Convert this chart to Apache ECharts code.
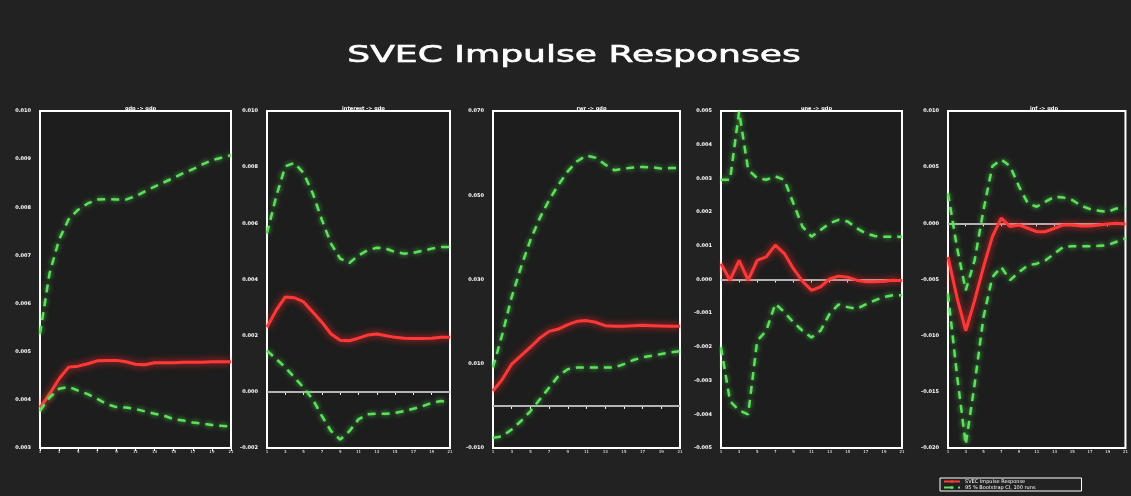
<!DOCTYPE html>
<html>
<head>
<meta charset="utf-8">
<script src="https://cdn.jsdelivr.net/npm/echarts@6/dist/echarts.min.js"></script>
<style>
html,body{margin:0;padding:0;background:#222222;}
#c{width:1131px;height:496px;}
</style>
</head>
<body>
<div id="c"></div>
<script>
// Horizon (steps 0..20)
const steps = Array.from({length: 21}, (_, i) => String(i + 1));

// Panel titles
const panelTitles = ['gdp -> gdp', 'interest -> gdp', 'rwr -> gdp', 'une -> gdp', 'inf -> gdp'];

// Values in units of 1e-3
const p1Irf   = [3.84,4.12,4.44,4.68,4.70,4.75,4.81,4.82,4.82,4.79,4.74,4.73,4.77,4.77,4.77,4.78,4.78,4.78,4.79,4.79,4.79];
const p1Upper = [5.37,6.63,7.33,7.75,7.95,8.08,8.16,8.17,8.16,8.16,8.23,8.33,8.43,8.52,8.61,8.71,8.79,8.89,8.98,9.03,9.08];
const p1Lower = [3.77,4.05,4.23,4.27,4.19,4.12,4.02,3.91,3.85,3.84,3.81,3.76,3.71,3.67,3.60,3.57,3.53,3.51,3.48,3.46,3.45];

const p2Irf   = [2.30,2.90,3.38,3.35,3.20,2.84,2.48,2.06,1.84,1.82,1.91,2.02,2.06,2.00,1.94,1.91,1.90,1.90,1.91,1.94,1.94];
const p2Upper = [5.64,6.95,8.03,8.15,7.79,7.07,6.12,5.28,4.74,4.59,4.86,5.04,5.13,5.10,4.98,4.92,4.95,5.02,5.10,5.16,5.16];
const p2Lower = [1.47,1.17,0.87,0.51,0.15,-0.27,-0.86,-1.40,-1.70,-1.40,-0.98,-0.80,-0.78,-0.78,-0.75,-0.69,-0.60,-0.51,-0.39,-0.33,-0.37];

const p3Irf   = [3.52,6.32,9.92,11.92,13.92,16.08,17.68,18.24,19.28,20.08,20.24,19.84,19.04,18.88,18.88,19.04,19.12,19.04,18.96,18.88,18.88];
const p3Upper = [9.12,17.04,25.84,32.96,39.36,44.56,48.88,52.48,55.68,58.08,59.44,58.88,57.28,55.92,56.32,56.56,56.72,56.64,56.32,56.48,56.48];
const p3Lower = [-7.6,-7.2,-5.6,-3.6,-1.28,1.52,4.32,7.12,8.72,9.12,9.12,9.12,9.12,9.12,9.92,10.88,11.52,11.92,12.32,12.72,12.96];

const p4Irf   = [0.47,-0.02,0.57,-0.02,0.57,0.67,1.02,0.77,0.32,-0.05,-0.32,-0.22,0.02,0.10,0.07,-0.02,-0.07,-0.07,-0.05,-0.02,-0.04];
const p4Upper = [2.96,2.96,4.98,3.26,3.01,2.96,3.06,2.96,2.26,1.57,1.27,1.47,1.67,1.77,1.72,1.52,1.37,1.29,1.27,1.27,1.27];
const p4Lower = [-2.01,-3.61,-3.88,-4.00,-1.82,-1.52,-0.72,-0.97,-1.27,-1.52,-1.72,-1.52,-1.02,-0.74,-0.82,-0.87,-0.74,-0.62,-0.52,-0.47,-0.47];

const p5Irf   = [-2.99,-6.56,-9.56,-6.86,-3.89,-1.19,0.46,-0.29,-0.14,-0.44,-0.74,-0.74,-0.44,-0.14,-0.14,-0.23,-0.23,-0.14,-0.05,0.01,-0.05];
const p5Upper = [2.68,-2.09,-5.96,-3.29,1.18,5.08,5.68,5.08,3.28,1.78,1.48,1.93,2.38,2.29,2.08,1.57,1.27,1.12,1.03,1.33,1.33];
const p5Lower = [-6.26,-13.43,-19.70,-14.33,-8.36,-4.79,-3.89,-5.06,-4.34,-3.74,-3.59,-3.29,-2.69,-2.09,-2.03,-2.03,-2.03,-2.0,-1.94,-1.64,-1.34];

// y-axis ranges (units 1e-3): [min, max, interval]
const yRanges = [[3, 10, 1], [-2, 10, 2], [-10, 70, 20], [-5, 5, 1], [-20, 10, 5]];
const showZero = [false, true, true, true, true];

const irfs = [p1Irf, p2Irf, p3Irf, p4Irf, p5Irf];
const uppers = [p1Upper, p2Upper, p3Upper, p4Upper, p5Upper];
const lowers = [p1Lower, p2Lower, p3Lower, p4Lower, p5Lower];

const IRF_NAME = 'SVEC Impulse Response';
const CI_NAME = '95 % Bootstrap CI, 100 runs';

const gridBoxes = [
  {left: 40, width: 191},
  {left: 267, width: 183},
  {left: 493, width: 187},
  {left: 721, width: 181},
  {left: 948, width: 182}
];
const TOP = 111, HEIGHT = 337;

const grids = [], xAxes = [], yAxes = [], series = [], titles = [];
gridBoxes.forEach((g, i) => {
  grids.push({left: g.left, top: TOP, width: g.width, height: HEIGHT, show: true,
    borderColor: '#ffffff', borderWidth: 2, backgroundColor: '#1d1d1d'});
  xAxes.push({type: 'category', gridIndex: i, data: steps, boundaryGap: false,
    axisLine: {show: false},
    axisTick: {show: true, interval: 1, length: 3, lineStyle: {color: '#fff', width: 1}},
    axisLabel: {interval: 1, color: '#fff', fontSize: 4, margin: 2, fontFamily: 'DejaVu Sans'},
    splitLine: {show: false}});
  const r = yRanges[i];
  yAxes.push({type: 'value', gridIndex: i, min: r[0], max: r[1], interval: r[2],
    axisLine: {show: false},
    axisTick: {show: false},
    axisLabel: {color: '#fff', fontSize: 5, margin: 9, fontFamily: 'DejaVu Sans', fontWeight: 'bold',
      formatter: v => (v / 1000).toFixed(3)},
    splitLine: {show: false}});
  titles.push({text: panelTitles[i], left: g.left + g.width / 2, top: 101, textAlign: 'center',
    textStyle: {color: '#fff', fontSize: 5, fontWeight: 'bold', fontFamily: 'DejaVu Sans'}});
  const irf = {name: IRF_NAME, type: 'line', xAxisIndex: i, yAxisIndex: i, data: irfs[i],
    symbol: 'none', z: 4,
    lineStyle: {color: '#ff3838', width: 3, shadowBlur: 7, shadowColor: 'rgba(255,40,40,0.95)'},
    itemStyle: {color: '#ff3838'}};
  if (showZero[i]) {
    irf.markLine = {silent: true, symbol: ['none', 'none'], label: {show: false},
      lineStyle: {color: '#b4b4b4', width: 2, type: 'solid'}, data: [{yAxis: 0}], z: 2};
  }
  series.push(irf);
  [uppers[i], lowers[i]].forEach(d => {
    series.push({name: CI_NAME, type: 'line', xAxisIndex: i, yAxisIndex: i, data: d,
      symbol: 'none', z: 5,
      lineStyle: {color: '#5ee05e', width: 2.5, type: [8, 6], shadowBlur: 5, shadowColor: 'rgba(80,230,80,0.9)'},
      itemStyle: {color: '#5ee05e'}});
  });
});

const chart = echarts.init(document.getElementById('c'), null, {renderer: 'canvas'});
chart.setOption({
  backgroundColor: '#222222',
  animation: false,
  title: titles,
  grid: grids,
  xAxis: xAxes,
  yAxis: yAxes,
  legend: {data: [IRF_NAME, CI_NAME], orient: 'vertical', left: 940, top: 478,
    itemWidth: 16, itemHeight: 4, itemGap: 1, padding: [1, 46, 1, 3],
    borderColor: '#fff', borderWidth: 1,
    textStyle: {color: '#fff', fontSize: 5, fontFamily: 'DejaVu Sans'}},
  graphic: [{type: 'text', x: 574, y: 56, scaleX: 1.57, scaleY: 1,
    style: {text: 'SVEC Impulse Responses', fill: '#ffffff', font: '23px "DejaVu Sans"',
      stroke: '#ffffff', lineWidth: 0.6,
      textAlign: 'center', textVerticalAlign: 'middle'}}],
  series: series
});
</script>
</body>
</html>
